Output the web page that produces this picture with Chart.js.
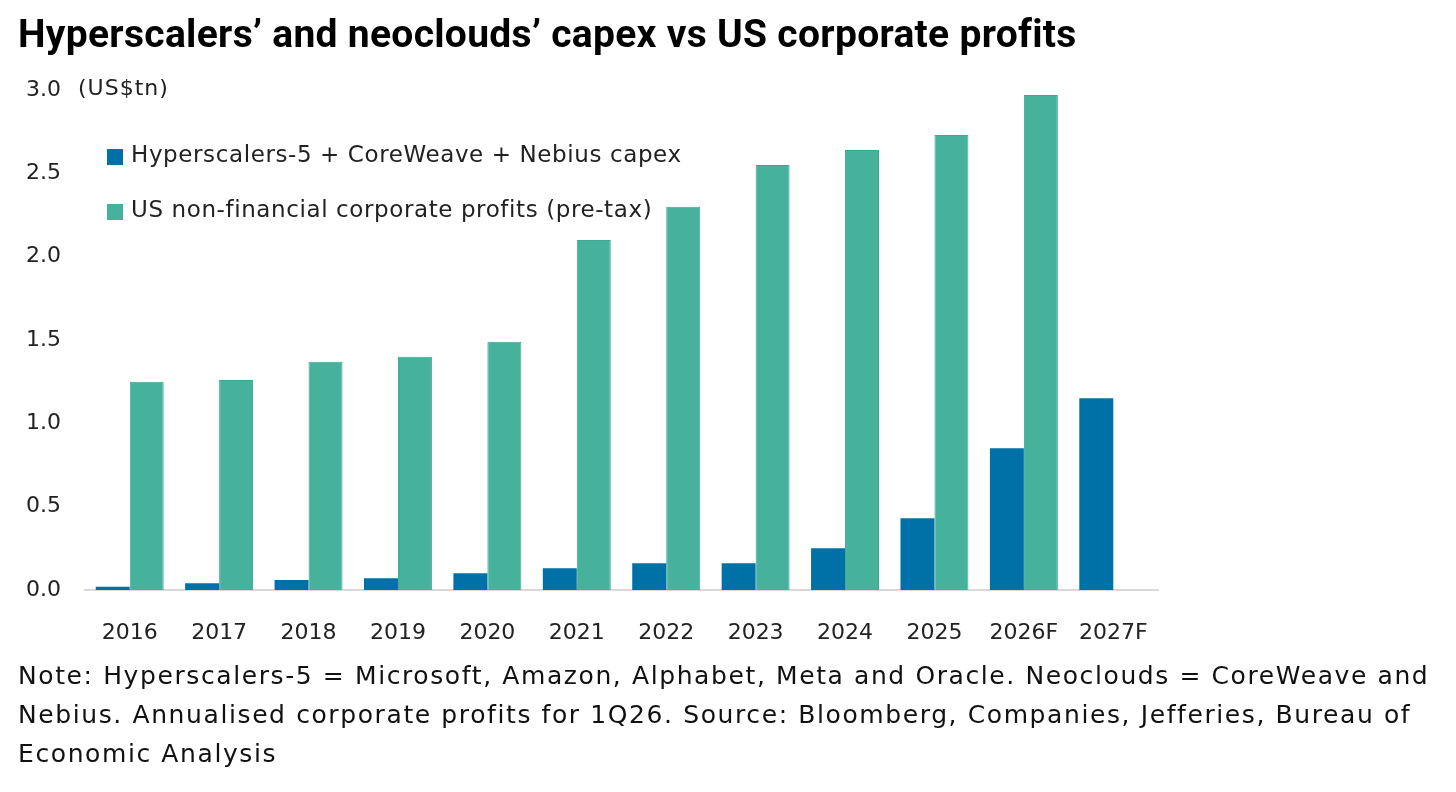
<!DOCTYPE html>
<html>
<head>
<meta charset="utf-8">
<script src="https://cdn.jsdelivr.net/npm/chart.js@4.4.1/dist/chart.umd.min.js"></script>
<style>
  body { margin: 0; background: #fff; }
  #wrap { position: relative; width: 1456px; height: 792px; overflow: hidden; }
  #myChart { position: absolute; left: 0; top: 0; }
  #title { position: absolute; left: 18px; top: 11px; font: bold 39px Roboto, sans-serif; letter-spacing: 0.3px; color: #000; white-space: nowrap; }
  #unit { position: absolute; left: 78px; top: 75px; font: 22px "DejaVu Sans", sans-serif; letter-spacing: 1px; color: #222; }
  #legend { position: absolute; left: 107px; top: 141px; font: 23px "DejaVu Sans", sans-serif; letter-spacing: 0.6px; color: #222; }
  #legend div { height: 55px; display: flex; align-items: flex-start; white-space: nowrap; }
  #legend span.box { display: inline-block; width: 16px; height: 16px; margin: 8px 8px 0 0; }
  #note { position: absolute; left: 18px; top: 656px; font: 25px "DejaVu Sans", sans-serif; letter-spacing: 1.6px; line-height: 39px; color: #111; white-space: nowrap; }
</style>
</head>
<body>
<div id="wrap">
  <canvas id="myChart" width="1456" height="792"></canvas>
  <div id="title">Hyperscalers’ and neoclouds’ capex vs US corporate profits</div>
  <div id="unit">(US$tn)</div>
  <div id="legend"></div>
  <div id="note">Note: Hyperscalers-5 = Microsoft, Amazon, Alphabet, Meta and Oracle. Neoclouds = CoreWeave and<br>Nebius. Annualised corporate profits for 1Q26. Source: Bloomberg, Companies, Jefferies, Bureau of<br>Economic Analysis</div>
</div>
<script>
// years on the x axis
const years = ['2016', '2017', '2018', '2019', '2020', '2021', '2022', '2023', '2024', '2025', '2026F', '2027F'];

// US$tn
const capex = [0.02, 0.04, 0.06, 0.07, 0.10, 0.13, 0.16, 0.16, 0.25, 0.43, 0.85, 1.15];
const profits = [1.25, 1.26, 1.37, 1.40, 1.49, 2.10, 2.30, 2.55, 2.64, 2.73, 2.97, null];

const seriesNames = ['Hyperscalers-5 + CoreWeave + Nebius capex', 'US non-financial corporate profits (pre-tax)'];
const seriesColors = ['#0071a7', '#46b29c'];

const data = {
    labels: years,
    datasets: [
        { label: seriesNames[0], data: capex, backgroundColor: seriesColors[0] },
        { label: seriesNames[1], data: profits, backgroundColor: seriesColors[1], borderColor: '#3aa88f', borderWidth: 1 }
    ]
};

var ctx = document.getElementById('myChart');

var myChart = new Chart(ctx, {
    type: 'bar',
    data: data,
    options: {
        responsive: false,
        animation: false,
        layout: { padding: { top: 90, right: 298, bottom: 142, left: 0 } },
        datasets: { bar: { categoryPercentage: 0.76, barPercentage: 1.0 } },
        plugins: { legend: { display: false }, tooltip: { enabled: false } },
        scales: {
            x: {
                afterFit: (scale) => { scale.height = 60; },
                grid: { display: false, drawTicks: false },
                border: { display: true, color: '#d9d9d9', width: 2 },
                ticks: { color: '#222', font: { family: 'DejaVu Sans', size: 22 }, padding: 30, maxRotation: 0 }
            },
            y: {
                min: 0,
                max: 3.0,
                afterFit: (scale) => { scale.width = 85; },
                grid: { display: false, drawTicks: false },
                border: { display: false },
                ticks: {
                    stepSize: 0.5,
                    color: '#222',
                    font: { family: 'DejaVu Sans', size: 22 },
                    padding: 24,
                    callback: (v) => v.toFixed(1)
                }
            }
        }
    }
});

// legend as plain text boxes inside the plot
const legendDiv = document.querySelector('#legend');
seriesNames.forEach((name, i) => {
    let row = document.createElement('div');
    row.innerHTML = '<span class="box" style="background:' + seriesColors[i] + '"></span>' + name;
    legendDiv.appendChild(row);
});
</script>
</body>
</html>
